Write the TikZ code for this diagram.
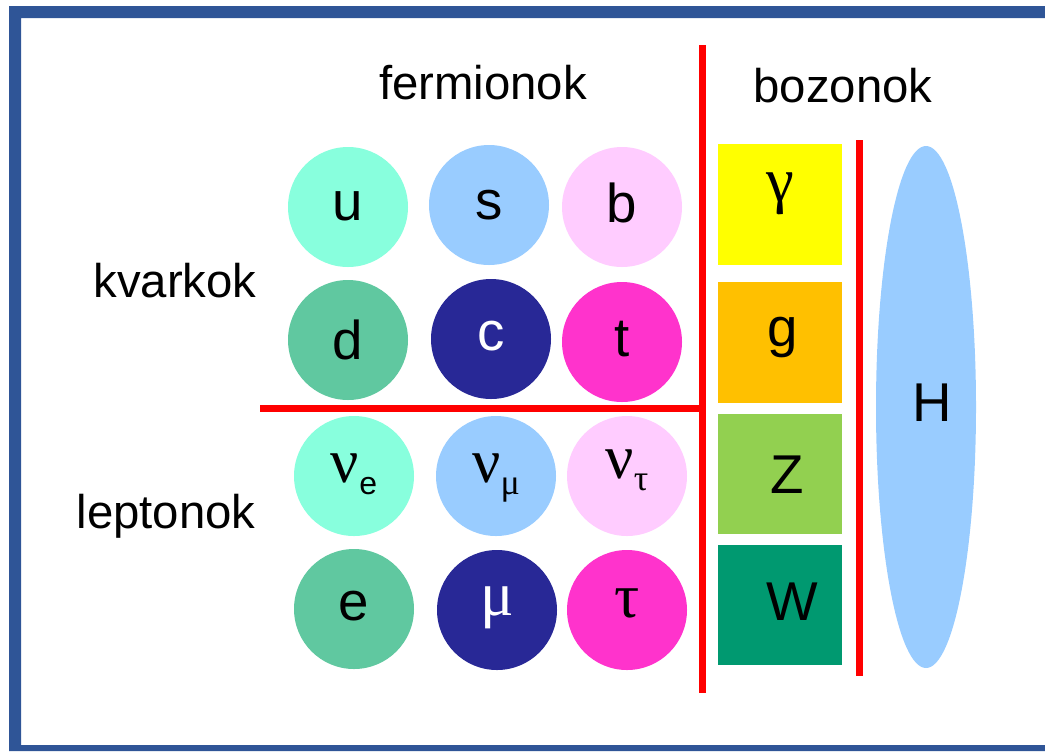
\documentclass[tikz,border=0pt]{standalone}
\usepackage{fontspec}
\setmainfont{Liberation Sans}
\newfontfamily\grk{Liberation Serif}
\usetikzlibrary{shapes.geometric}
\definecolor{frameblue}{HTML}{2F5597}
\definecolor{linered}{HTML}{FF0000}
\definecolor{mint}{HTML}{88FFDD}
\definecolor{skyblue}{HTML}{99CCFF}
\definecolor{palepink}{HTML}{FFCCFF}
\definecolor{seagreen}{HTML}{60C8A0}
\definecolor{navyblue}{HTML}{282896}
\definecolor{hotpink}{HTML}{FF33CC}
\definecolor{bosyellow}{HTML}{FFFF00}
\definecolor{bosorange}{HTML}{FFC000}
\definecolor{boslime}{HTML}{92D050}
\definecolor{bosteal}{HTML}{009970}
\newcommand{\gk}[1]{{\grk\fontsize{47}{47}\selectfont #1}}
\newcommand{\nusub}[2]{\gk{ν}\raisebox{-9pt}{#2}}
\newcommand{\sbl}[1]{{\fontsize{24}{24}\selectfont #1}}
\newcommand{\sbg}[1]{{\grk\fontsize{27}{27}\selectfont #1}}
\begin{document}
\begin{tikzpicture}[x=0.75pt,y=-0.75pt,
  part/.style={circle, minimum size=90pt, inner sep=0pt, text depth=0pt,
    font=\fontsize{41}{41}\selectfont},
  boson/.style={rectangle, minimum width=93pt, minimum height=90.5pt, inner sep=0pt,
    text depth=0pt, font=\fontsize{41}{41}\selectfont},
  bl/.style={text height=#1},
  bu/.style={text height=0pt, text depth=#1},
  push/.style={execute at begin node={\hspace*{#1}}},
  head/.style={anchor=base, inner sep=0pt, font=\fontsize{35.5}{35.5}\selectfont},
  divider/.style={draw=linered, line width=5.25pt}]
\useasboundingbox (0,0) rectangle (1045,751);
% frame
\fill[frameblue, even odd rule] (9,6) rectangle (1045,751) (21,18) rectangle (1045,745);

% headings
\node[head] (fer) at (483,99) {fermionok};
\node[head] (boz) at (843,102) {bozonok};
\node[head] (kva) at (175,297) {kvarkok};
\node[head] (lep) at (166,528) {leptonok};

% quarks
\node[part, fill=mint, bl=19.5pt] (u) at (348,207) {u};
\node[part, fill=skyblue, bl=21pt] (s) at (489,205) {s};
\node[part, fill=palepink, bl=22.5pt] (b) at (622,207) {b};
\node[part, fill=seagreen, bl=28.5pt] (d) at (348,340) {d};
\node[part, fill=navyblue, text=white, bl=16.5pt] (c) at (491,339) {c};
\node[part, fill=hotpink, bl=21.75pt] (t) at (622,342) {t};

% leptons
\node[part, fill=mint, bl=9pt] (nue) at (354,476) {\nusub{e}{\sbl{e}}};
\node[part, fill=skyblue, bl=9pt] (numu) at (496,476) {\nusub{m}{\sbg{μ}}};
\node[part, fill=palepink, bl=3pt] (nutau) at (627,476) {\nusub{t}{\sbg{τ}}};
\node[part, fill=seagreen, bl=16.5pt] (e) at (354,609) {e};
\node[part, fill=navyblue, text=white, bl=7.5pt] (mu) at (497,610) {\gk{μ}};
\node[part, fill=hotpink, bl=10.5pt] (tau) at (627,610) {\gk{τ}};

% bosons
\node[boson, fill=bosyellow, bu=5.25pt] (gamma) at (780,204.5) {\gk{γ}};
\node[boson, fill=bosorange, bl=5.25pt, push=4.5pt] (g) at (780,342.5) {g};
\node[boson, fill=boslime, bl=28.5pt, push=10.5pt] (Z) at (780,474) {Z};
\node[boson, fill=bosteal, bl=22.5pt, push=18pt] (W) at (780,605) {W};

% Higgs
\node[ellipse, fill=skyblue, minimum width=75pt, minimum height=391.5pt, inner sep=0pt,
  text depth=0pt, bl=21pt, push=9pt, font=\fontsize{41}{41}\selectfont] (H) at (926,407) {H};

% dividers
\coordinate (v1top) at (702,45);
\coordinate (v1bot) at (702,693);
\coordinate (hleft) at (260,408);
\coordinate (hright) at (702,408);
\coordinate (v2top) at (859.5,140);
\coordinate (v2bot) at (859.5,676);
\draw[divider] (v1top) -- (v1bot);
\draw[divider] (hleft) -- (hright);
\draw[divider] (v2top) -- (v2bot);
\end{tikzpicture}
\end{document}
